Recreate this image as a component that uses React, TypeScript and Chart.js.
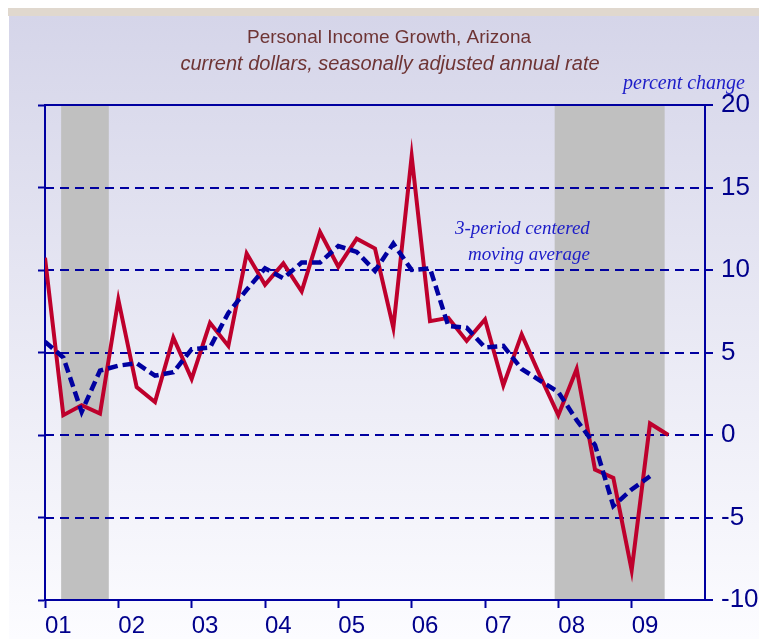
import React, { useEffect, useRef } from 'react';
import { Chart, registerables } from 'chart.js';

Chart.register(...registerables);

// ---- data ----
const quarters = [
  '2001Q1', '2001Q2', '2001Q3', '2001Q4',
  '2002Q1', '2002Q2', '2002Q3', '2002Q4',
  '2003Q1', '2003Q2', '2003Q3', '2003Q4',
  '2004Q1', '2004Q2', '2004Q3', '2004Q4',
  '2005Q1', '2005Q2', '2005Q3', '2005Q4',
  '2006Q1', '2006Q2', '2006Q3', '2006Q4',
  '2007Q1', '2007Q2', '2007Q3', '2007Q4',
  '2008Q1', '2008Q2', '2008Q3', '2008Q4',
  '2009Q1', '2009Q2', '2009Q3',
];

const personalIncomeGrowth = [
  10.75, 1.2, 1.8, 1.3,
  8.2, 2.9, 2.0, 5.9,
  3.4, 6.8, 5.4, 11.0,
  9.1, 10.4, 8.7, 12.3,
  10.2, 11.9, 11.3, 6.5,
  16.9, 6.9, 7.1, 5.7,
  7.0, 3.0, 6.1, 3.6,
  1.2, 4.0, -2.1, -2.6,
  -8.2, 0.7, 0.0,
];

const movingAverage3 = [
  5.65, 4.7, 1.4, 3.9,
  4.2, 4.35, 3.6, 3.8,
  5.2, 5.3, 7.4, 8.8,
  10.1, 9.5, 10.45, 10.45,
  11.45, 11.1, 9.95, 11.6,
  10.0, 10.1, 6.6, 6.5,
  5.3, 5.4, 4.0, 3.3,
  2.6, 0.9, -0.6, -4.3,
  -3.3, -2.5,
];

const recessionStarts = [2001.22, 2007.95];
const recessionEnds = [2001.87, 2009.45];

const xTickLabels = ['01', '02', '03', '04', '05', '06', '07', '08', '09'];
const xMin = 2001;
const xMax = 2010;
const yMin = -10;
const yMax = 20;
const yStep = 5;

const titleText = 'Personal Income Growth, Arizona';
const subtitleText = 'current dollars, seasonally adjusted annual rate';
const unitText = 'percent change';
const annotationLines = ['3-period centered', 'moving average'];

// ---- style ----
const AXIS = '#0000a0';
const TICK_TEXT = '#00008c';
const RED = '#be002c';
const TITLE_COLOR = '#6e3434';
const NOTE_COLOR = '#1c1cc8';

function quarterToYear(q: string): number {
  const y = parseInt(q.slice(0, 4), 10);
  const n = parseInt(q.slice(5), 10);
  return y + (n - 1) / 4;
}

const decorPlugin = {
  id: 'decor',
  beforeDraw(chart: any) {
    const { ctx, width, height, chartArea, scales } = chart;
    ctx.save();
    ctx.fillStyle = '#ffffff';
    ctx.fillRect(0, 0, width, height);
    ctx.fillStyle = '#e0d8ce';
    ctx.fillRect(0, 0, width, 8);
    const g = ctx.createLinearGradient(0, 8, 0, height);
    g.addColorStop(0, '#d5d5e9');
    g.addColorStop(1, '#fcfcff');
    ctx.fillStyle = g;
    ctx.fillRect(1, 8, width - 1, height - 8);
    ctx.fillStyle = '#c0c0c0';
    for (let i = 0; i < recessionStarts.length; i++) {
      const x1 = scales.x.getPixelForValue(recessionStarts[i]);
      const x2 = scales.x.getPixelForValue(recessionEnds[i]);
      ctx.fillRect(x1, chartArea.top, x2 - x1, chartArea.bottom - chartArea.top);
    }
    ctx.restore();
  },
  afterDraw(chart: any) {
    const { ctx, scales } = chart;
    ctx.save();
    ctx.textBaseline = 'middle';
    ctx.fillStyle = TITLE_COLOR;
    ctx.textAlign = 'center';
    ctx.font = '19px "Liberation Sans Narrow", "Liberation Sans", sans-serif';
    ctx.fillText(titleText, 381, 30);
    ctx.font = 'italic 20px "Liberation Sans Narrow", "Liberation Sans", sans-serif';
    ctx.fillText(subtitleText, 382, 56);

    ctx.fillStyle = NOTE_COLOR;
    ctx.textAlign = 'right';
    ctx.font = 'italic 20px "Liberation Serif", serif';
    ctx.fillText(unitText, 737, 76);

    ctx.font = 'italic 19px "Liberation Serif", serif';
    const ax = scales.x.getPixelForValue(2008.43);
    ctx.fillText(annotationLines[0], ax, scales.y.getPixelForValue(12.5));
    ctx.fillText(annotationLines[1], ax, scales.y.getPixelForValue(10.9));
    ctx.restore();
  },
};

export default function App() {
  const canvasRef = useRef<HTMLCanvasElement | null>(null);

  useEffect(() => {
    if (!canvasRef.current) return;
    const xs = quarters.map(quarterToYear);
    const chart = new Chart(canvasRef.current, {
      type: 'line',
      data: {
        datasets: [
          {
            label: '3-period centered moving average',
            data: movingAverage3.map((v, i) => ({ x: xs[i], y: v })),
            borderColor: AXIS,
            borderWidth: 4.5,
            borderDash: [10, 5],
            pointRadius: 0,
            tension: 0,
            fill: false,
            order: 0,
          },
          {
            label: 'Personal income growth',
            data: personalIncomeGrowth.map((v, i) => ({ x: xs[i], y: v })),
            borderColor: RED,
            borderWidth: 4,
            borderJoinStyle: 'miter',
            pointRadius: 0,
            tension: 0,
            fill: false,
            order: 1,
          },
        ],
      },
      options: {
        responsive: false,
        animation: false,
        events: [],
        layout: { padding: { top: 97, left: 30, right: 0, bottom: 0 } },
        plugins: {
          legend: { display: false },
          tooltip: { enabled: false },
          title: { display: false },
        },
        scales: {
          x: {
            type: 'linear',
            min: xMin,
            max: xMax,
            afterFit: (s: any) => { s.height = 39; },
            ticks: {
              stepSize: 1,
              autoSkip: false,
              maxRotation: 0,
              align: 'start',
              padding: 4,
              color: TICK_TEXT,
              font: { family: '"Liberation Sans", Arial, sans-serif', size: 24 },
              callback: (v: any) => {
                const idx = Math.round(Number(v)) - xMin;
                return idx >= 0 && idx < xTickLabels.length ? xTickLabels[idx] : '';
              },
            },
            grid: {
              drawOnChartArea: false,
              drawTicks: true,
              tickLength: 8,
              tickWidth: 2,
              tickColor: (c: any) => (c.tick && c.tick.value >= xMax ? 'rgba(0,0,0,0)' : AXIS),
            },
            border: { display: true, color: AXIS, width: 2 },
          },
          y: {
            type: 'linear',
            position: 'right',
            min: yMin,
            max: yMax,
            afterFit: (s: any) => { s.width = 54; },
            ticks: {
              stepSize: yStep,
              padding: 8,
              color: TICK_TEXT,
              font: { family: '"Liberation Sans", Arial, sans-serif', size: 26 },
              callback: (v: any) => String(v),
            },
            grid: {
              color: AXIS,
              lineWidth: 2,
              drawOnChartArea: true,
              drawTicks: true,
              tickLength: 8,
              tickWidth: 2,
              tickColor: AXIS,
            },
            border: {
              display: true,
              color: AXIS,
              width: 2,
              dash: (c: any) => {
                if (!c.tick) return [];
                return c.tick.value === yMax || c.tick.value === yMin ? [] : [9, 6];
              },
            },
          },
          y2: {
            type: 'linear',
            position: 'left',
            min: yMin,
            max: yMax,
            afterFit: (s: any) => { s.width = 7; },
            ticks: { stepSize: yStep, display: false },
            grid: {
              drawOnChartArea: false,
              drawTicks: true,
              tickLength: 7,
              tickWidth: 2,
              tickColor: AXIS,
            },
            border: { display: true, color: AXIS, width: 2 },
          },
        },
      } as any,
      plugins: [decorPlugin],
    });
    return () => chart.destroy();
  }, []);

  return (
    <div style={{ width: 751, height: 631 }}>
      <canvas ref={canvasRef} width={751} height={631} style={{ display: 'block' }} />
    </div>
  );
}
